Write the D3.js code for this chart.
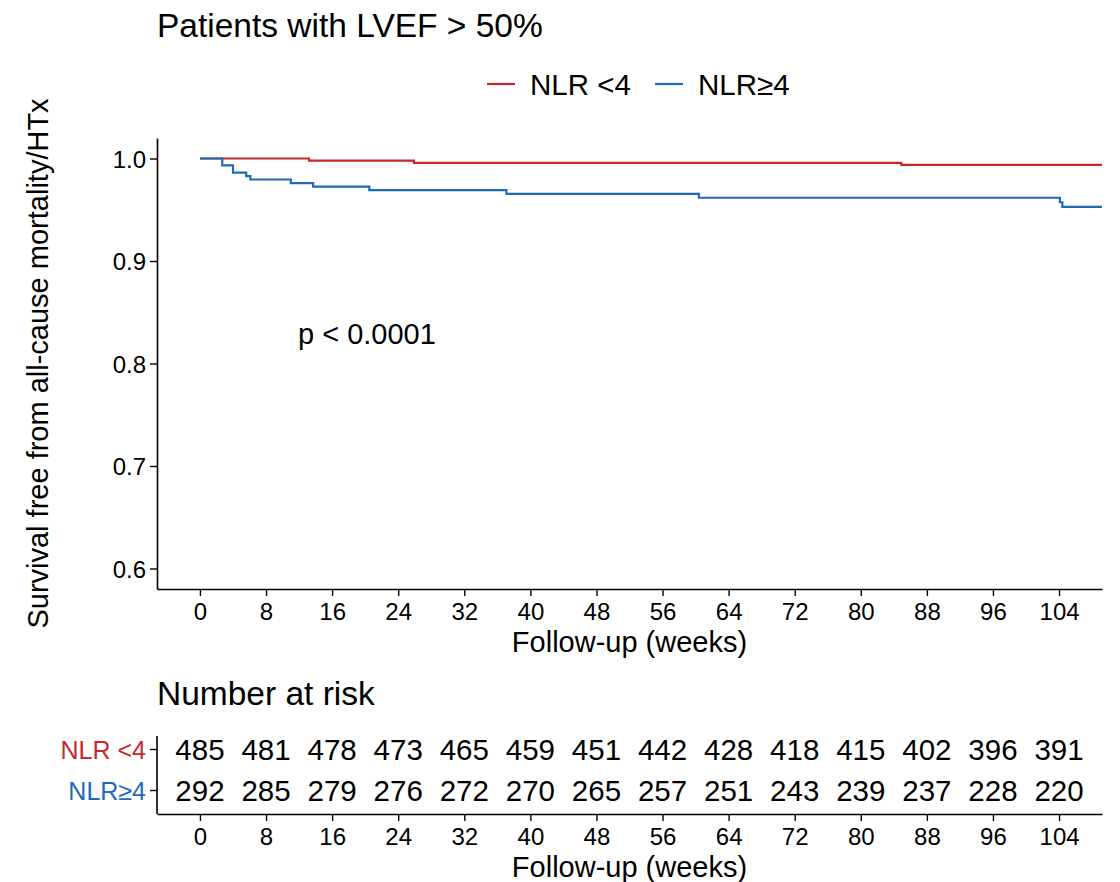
<!DOCTYPE html>
<html>
<head>
<meta charset="utf-8">
<script src="https://cdn.jsdelivr.net/npm/d3@7"></script>
<style>
  html, body { margin: 0; padding: 0; background: #fff; }
  svg { display: block; font-family: "Liberation Sans", Arial, Helvetica, sans-serif; }
</style>
</head>
<body>
<svg id="chart" width="1120" height="882"></svg>
<script>
// Kaplan-Meier estimates (time in weeks, survival probability after each step)
const groups = ["NLR <4", "NLR\u22654"];
const groupColors = ["#CB2629", "#1C6AB8"];

const lowTimes = [0, 13.2, 25.9, 84.9, 112];
const lowSurv  = [1.0, 0.9979, 0.9958, 0.9938, 0.9938];

const highTimes = [0, 2.7, 4.0, 5.6, 6.1, 11.0, 13.7, 20.5, 37.1, 60.4, 104.1, 104.4, 112];
const highSurv  = [1.0, 0.9932, 0.9863, 0.9829, 0.9795, 0.9760, 0.9726, 0.9691, 0.9655, 0.9617, 0.9573, 0.9529, 0.9529];

// Number at risk table
const riskTimes = [0, 8, 16, 24, 32, 40, 48, 56, 64, 72, 80, 88, 96, 104];
const riskLow   = [485, 481, 478, 473, 465, 459, 451, 442, 428, 418, 415, 402, 396, 391];
const riskHigh  = [292, 285, 279, 276, 272, 270, 265, 257, 251, 243, 239, 237, 228, 220];

const xTicks = [0, 8, 16, 24, 32, 40, 48, 56, 64, 72, 80, 88, 96, 104];
const yTicks = [0.6, 0.7, 0.8, 0.9, 1.0];

const titleText = "Patients with LVEF > 50%";
const yTitle = "Survival free from all-cause mortality/HTx";
const xTitle = "Follow-up (weeks)";
const riskTitle = "Number at risk";
const pText = "p < 0.0001";

const svg = d3.select("#chart");
svg.append("rect").attr("width", 1120).attr("height", 882).attr("fill", "#fff");

const panel = { left: 157, right: 1102, top: 138, bottom: 589 };
const x = d3.scaleLinear().domain([-5.2, 109.2]).range([panel.left, panel.right]);
const y = d3.scaleLinear().domain([0.58, 1.02]).range([panel.bottom, panel.top]);

const defs = svg.append("defs");
defs.append("clipPath").attr("id", "clipMain").append("rect")
  .attr("x", panel.left).attr("y", panel.top - 5)
  .attr("width", panel.right - panel.left).attr("height", panel.bottom - panel.top + 5);

// Title
svg.append("text").attr("x", 157).attr("y", 37)
  .attr("font-size", 33.5).attr("fill", "#000").text(titleText);

// Legend
const legend = svg.append("g");
const legendItems = [
  { label: groups[0], color: groupColors[0], x0: 487 },
  { label: groups[1], color: groupColors[1], x0: 655 }
];
legendItems.forEach(d => {
  legend.append("line").attr("x1", d.x0).attr("x2", d.x0 + 28)
    .attr("y1", 84).attr("y2", 84).attr("stroke", d.color).attr("stroke-width", 2.2);
  legend.append("text").attr("x", d.x0 + 43).attr("y", 95)
    .attr("font-size", 29.5).attr("fill", "#000").text(d.label);
});

// Survival curves
const series = [
  { times: lowTimes, surv: lowSurv, color: groupColors[0] },
  { times: highTimes, surv: highSurv, color: groupColors[1] }
];
const line = d3.line().x(d => x(d[0])).y(d => y(d[1])).curve(d3.curveStepAfter);
const curves = svg.append("g").attr("clip-path", "url(#clipMain)");
series.forEach(s => {
  const pts = s.times.map((t, i) => [t, s.surv[i]]);
  curves.append("path").attr("d", line(pts)).attr("fill", "none")
    .attr("stroke", s.color).attr("stroke-width", 2.2).attr("stroke-linejoin", "miter");
});

// Axes styling helper
function styleAxis(g, fontSize) {
  g.selectAll(".domain").attr("stroke", "#000").attr("stroke-width", 1.6);
  g.selectAll(".tick line").attr("stroke", "#000").attr("stroke-width", 1.4);
  g.selectAll(".tick text").attr("font-size", fontSize).attr("fill", "#000")
    .attr("font-family", "\"Liberation Sans\", Arial, Helvetica, sans-serif");
}

// Main axes
const yAxis = svg.append("g").attr("transform", `translate(${panel.left},0)`)
  .call(d3.axisLeft(y).tickValues(yTicks).tickFormat(d3.format(".1f")).tickSize(7).tickSizeOuter(0).tickPadding(4));
styleAxis(yAxis, 24);
yAxis.selectAll(".tick text").attr("dy", "0.36em");

const xAxis = svg.append("g").attr("transform", `translate(0,${panel.bottom})`)
  .call(d3.axisBottom(x).tickValues(xTicks).tickSize(7).tickSizeOuter(0).tickPadding(7));
styleAxis(xAxis, 24);

// Axis titles
svg.append("text").attr("x", (panel.left + panel.right) / 2).attr("y", 652)
  .attr("text-anchor", "middle").attr("font-size", 29).attr("fill", "#000").text(xTitle);
svg.append("text")
  .attr("transform", `translate(48,${(panel.top + panel.bottom) / 2}) rotate(-90)`)
  .attr("text-anchor", "middle").attr("font-size", 29).attr("fill", "#000").text(yTitle);

// p-value annotation
svg.append("text").attr("x", 298).attr("y", 344)
  .attr("font-size", 29).attr("fill", "#000").text(pText);

// Risk table
svg.append("text").attr("x", 157).attr("y", 705)
  .attr("font-size", 33.5).attr("fill", "#000").text(riskTitle);

const rPanel = { top: 736, bottom: 814 };
const yr = d3.scalePoint().domain(groups).range([749, 790]);

const riskRows = [riskLow, riskHigh];
const riskG = svg.append("g");
groups.forEach((g, gi) => {
  riskG.selectAll(null).data(riskTimes).enter().append("text")
    .attr("x", d => x(d)).attr("y", yr(g)).attr("dy", "0.36em")
    .attr("text-anchor", "middle").attr("font-size", 29.5).attr("fill", "#000")
    .text((d, i) => riskRows[gi][i]);
});

const yrAxis = svg.append("g").attr("transform", `translate(${panel.left},0)`)
  .call(d3.axisLeft(yr).tickSize(7).tickSizeOuter(0).tickPadding(4));
yrAxis.select(".domain").attr("d", `M0,${rPanel.top}V${rPanel.bottom}`);
styleAxis(yrAxis, 25);
yrAxis.selectAll(".tick text").attr("dy", "0.36em").attr("fill", (d, i) => groupColors[i]);

const xrAxis = svg.append("g").attr("transform", `translate(0,${rPanel.bottom})`)
  .call(d3.axisBottom(x).tickValues(xTicks).tickSize(7).tickSizeOuter(0).tickPadding(7));
styleAxis(xrAxis, 24);

svg.append("text").attr("x", (panel.left + panel.right) / 2).attr("y", 877)
  .attr("text-anchor", "middle").attr("font-size", 29).attr("fill", "#000").text(xTitle);
</script>
</body>
</html>
